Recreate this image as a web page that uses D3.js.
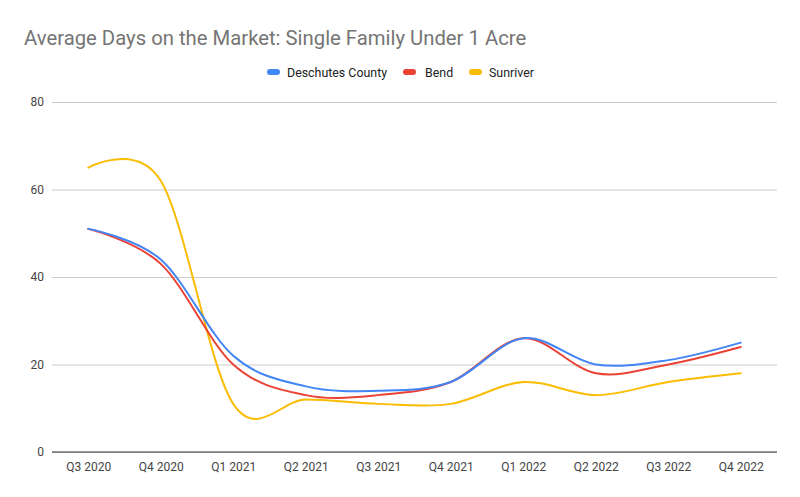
<!DOCTYPE html>
<html>
<head>
<meta charset="utf-8">
<script src="https://cdn.jsdelivr.net/npm/d3@7"></script>
<style>
  html, body { margin: 0; padding: 0; background: #fff; }
  svg { display: block; font-family: Roboto, Arial, sans-serif; }
</style>
</head>
<body>
<svg id="chart" width="800" height="497"></svg>
<script>
const categories = ["Q3 2020", "Q4 2020", "Q1 2021", "Q2 2021", "Q3 2021", "Q4 2021", "Q1 2022", "Q2 2022", "Q3 2022", "Q4 2022"];
const deschutes = [51, 44, 22, 15, 14, 16, 26, 20, 21, 25];
const bend      = [51, 43, 20, 13, 13, 16, 26, 18, 20, 24];
const sunriver  = [65, 62, 11, 12, 11, 11, 16, 13, 16, 18];
const yTicks = [0, 20, 40, 60, 80];
const seriesNames = ["Deschutes County", "Bend", "Sunriver"];
const seriesColors = ["#4285F4", "#EA4335", "#FBBC04"];

const series = [deschutes, bend, sunriver].map((vals, i) => ({ name: seriesNames[i], color: seriesColors[i], values: vals }));

const svg = d3.select("#chart");
const plotLeft = 52, plotRight = 777, plotTop = 102, plotBottom = 452;

const x = d3.scalePoint().domain(categories).range([plotLeft, plotRight]).padding(0.5);
const y = d3.scaleLinear().domain([0, 80]).range([plotBottom, plotTop]);

// Title
svg.append("text")
  .attr("x", 24).attr("y", 45)
  .attr("font-size", 20.3).attr("fill", "#757575")
  .text("Average Days on the Market: Single Family Under 1 Acre");

// Gridlines
const yAxis = d3.axisLeft(y).tickValues(yTicks).tickSize(-(plotRight - plotLeft)).tickPadding(8);
const gy = svg.append("g").attr("transform", `translate(${plotLeft},0)`).call(yAxis);
gy.select(".domain").remove();
gy.selectAll(".tick line").attr("stroke", "#cccccc").attr("stroke-width", 1);
gy.selectAll(".tick text").attr("font-size", 12).attr("fill", "#444").attr("font-family", "Roboto, Arial, sans-serif");

// X axis
const xAxis = d3.axisBottom(x).tickSize(0).tickPadding(10);
const gx = svg.append("g").attr("transform", `translate(0,${plotBottom})`).call(xAxis);
gx.select(".domain").remove();
gx.selectAll(".tick text").attr("font-size", 12).attr("fill", "#444").attr("font-family", "Roboto, Arial, sans-serif");

// Baseline
svg.append("line")
  .attr("x1", plotLeft).attr("x2", plotRight)
  .attr("y1", y(0)).attr("y2", y(0))
  .attr("stroke", "#333").attr("stroke-width", 1);

// Lines
const line = d3.line()
  .x((d, i) => x(categories[i]))
  .y(d => y(d))
  .curve(d3.curveCardinal.tension(0));

svg.append("g").selectAll("path")
  .data(series.slice().reverse())
  .join("path")
  .attr("d", d => line(d.values))
  .attr("fill", "none")
  .attr("stroke", d => d.color)
  .attr("stroke-width", 2)
  .attr("stroke-linejoin", "round")
  .attr("stroke-linecap", "round");

// Legend
const legendItems = [
  { name: seriesNames[0], color: seriesColors[0], sx: 267, tx: 287 },
  { name: seriesNames[1], color: seriesColors[1], sx: 403, tx: 425 },
  { name: seriesNames[2], color: seriesColors[2], sx: 469, tx: 489 }
];
const lg = svg.append("g");
legendItems.forEach(it => {
  lg.append("rect").attr("x", it.sx).attr("y", 69).attr("width", 13).attr("height", 6)
    .attr("rx", 3).attr("fill", it.color);
  lg.append("text").attr("x", it.tx).attr("y", 76.5)
    .attr("font-size", 12.4).attr("fill", "#222").text(it.name);
});
</script>
</body>
</html>
